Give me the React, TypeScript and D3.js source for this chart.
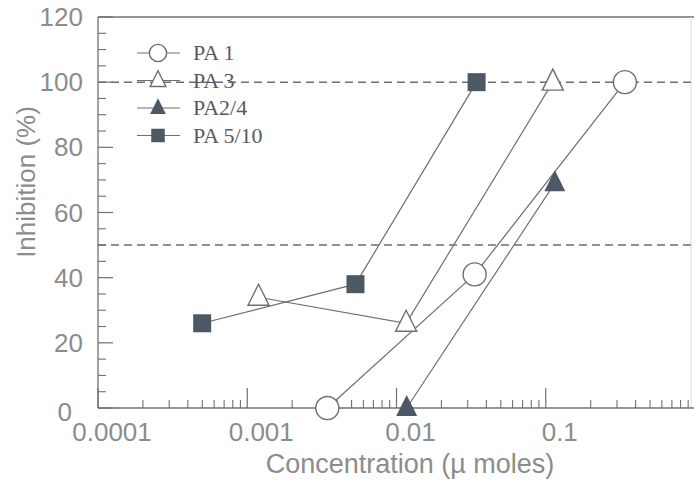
import * as d3 from "d3";
import React from "react";

// concentration (µ moles) / inhibition (%)
const seriesNames = ["PA 1", "PA 3", "PA2/4", "PA 5/10"];
const pa1Conc = [0.00344, 0.0334, 0.339];
const pa1Inh = [0, 41, 100];
const pa3Conc = [0.00119, 0.0116, 0.1115];
const pa3Inh = [34, 26, 100];
const pa24Conc = [0.0117, 0.115];
const pa24Inh = [0, 69];
const pa510Conc = [0.000499, 0.00531, 0.0344];
const pa510Inh = [26, 38, 100];
const refLines = [100, 50];

const xMajor = [0.0001, 0.001, 0.01, 0.1, 1];
const xTickLabels = ["0.0001", "0.001", "0.01", "0.1", "1"];
const yMajor = [0, 20, 40, 60, 80, 100, 120];

const W = 694;
const H = 487;
const AXIS = "#707070";
const LINE = "#6e6e6e";
const FILL = "#4d5866";
const TEXT = "#8c8c8c";
const SANS = "'Liberation Sans', Arial, sans-serif";

type Kind = "circle" | "triangle" | "triangleFilled" | "square";
const kinds: Kind[] = ["circle", "triangle", "triangleFilled", "square"];

function Marker({ kind, cx, cy, s = 1 }: { kind: Kind; cx: number; cy: number; s?: number }) {
  if (kind === "circle") {
    return <circle cx={cx} cy={cy} r={11.5 * s} fill="#fff" stroke={LINE} strokeWidth={1.4} />;
  }
  if (kind === "square") {
    const h = 9 * s;
    return <rect x={cx - h} y={cy - h} width={2 * h} height={2 * h} fill={FILL} />;
  }
  const hw = 10.5 * s;
  const d = `M${cx},${cy - 13 * s}L${cx + hw},${cy + 8 * s}L${cx - hw},${cy + 8 * s}Z`;
  return kind === "triangle" ? (
    <path d={d} fill="#fff" stroke={LINE} strokeWidth={1.4} strokeLinejoin="miter" />
  ) : (
    <path d={d} fill={FILL} />
  );
}

export default function App() {
  const x = d3.scaleLog().domain([0.0001, 1]).range([98, 695]);
  const y = d3.scaleLinear().domain([0, 120]).range([408, 17]);
  const [x0, x1] = [98, 694];
  const [yb, yt] = [y(0), y(120)];

  const xMinor: number[] = [];
  for (let e = -4; e < 0; e++) for (let m = 2; m <= 9; m++) xMinor.push(m * Math.pow(10, e));
  const yMinor = d3.range(0, 121, 5).filter((v) => v % 20 !== 0);

  const series = [
    { conc: pa1Conc, inh: pa1Inh },
    { conc: pa3Conc, inh: pa3Inh },
    { conc: pa24Conc, inh: pa24Inh },
    { conc: pa510Conc, inh: pa510Inh },
  ];
  const line = d3
    .line<[number, number]>()
    .x((d) => x(d[0]))
    .y((d) => y(d[1]));

  return (
    <div style={{ position: "absolute", left: 0, top: 0 }}>
      <svg width={W} height={H} viewBox={`0 0 ${W} ${H}`} style={{ display: "block", background: "#fff" }}>
        {/* frame */}
        <line x1={x0} x2={x1} y1={yt} y2={yt} stroke={AXIS} strokeWidth={1.3} />
        <line x1={691} x2={691} y1={yt} y2={yb} stroke="#dcdcdc" strokeWidth={1} />
        <line x1={x0} x2={x0} y1={yt} y2={yb} stroke={AXIS} strokeWidth={1.3} />
        <line x1={x0} x2={x1} y1={yb} y2={yb} stroke={AXIS} strokeWidth={1.3} />

        {/* y ticks */}
        {yMajor.map((v) => (
          <line key={"ym" + v} x1={x0} x2={x0 + 15} y1={y(v)} y2={y(v)} stroke={AXIS} strokeWidth={1.2} />
        ))}
        {yMinor.map((v) => (
          <line key={"yn" + v} x1={x0} x2={x0 + 8} y1={y(v)} y2={y(v)} stroke={AXIS} strokeWidth={1.1} />
        ))}
        {yMajor.map((v) => (
          <text
            key={"yl" + v}
            x={v === 0 ? 72 : 83}
            y={y(v) + (v === 0 ? 13 : 9)}
            textAnchor="end"
            fontFamily={SANS}
            fontSize={26}
            fill={TEXT}
          >
            {v}
          </text>
        ))}

        {/* x ticks */}
        {xMajor.map((v) => (
          <line key={"xm" + v} x1={x(v)} x2={x(v)} y1={yb} y2={yb - 20} stroke={AXIS} strokeWidth={1.2} />
        ))}
        {xMinor.map((v) => (
          <line key={"xn" + v} x1={x(v)} x2={x(v)} y1={yb} y2={yb - 8} stroke={AXIS} strokeWidth={1.1} />
        ))}
        {xMajor.map((v, i) => (
          <text
            key={"xl" + v}
            x={x(v) + 14}
            y={441}
            textAnchor="middle"
            fontFamily={SANS}
            fontSize={26}
            fill={TEXT}
          >
            {xTickLabels[i]}
          </text>
        ))}

        {/* axis titles */}
        <text x={410} y={473} textAnchor="middle" fontFamily={SANS} fontSize={27} fill={TEXT}>
          Concentration (µ moles)
        </text>
        <text
          transform="translate(35,182) rotate(-90)"
          textAnchor="middle"
          fontFamily={SANS}
          fontSize={26}
          fill={TEXT}
        >
          Inhibition (%)
        </text>

        {/* reference lines */}
        {refLines.map((v) => (
          <line
            key={"ref" + v}
            x1={x0}
            x2={x1}
            y1={y(v)}
            y2={y(v)}
            stroke={LINE}
            strokeWidth={1.5}
            strokeDasharray="8 5"
          />
        ))}

        {/* series lines */}
        {series.map((s, i) => (
          <path
            key={"ln" + i}
            d={line(s.conc.map((c, j) => [c, s.inh[j]] as [number, number])) || ""}
            fill="none"
            stroke={LINE}
            strokeWidth={1.2}
          />
        ))}
        {series.map((s, i) =>
          s.conc.map((c, j) => <Marker key={`mk${i}-${j}`} kind={kinds[i]} cx={x(c)} cy={y(s.inh[j])} />)
        )}

        {/* legend */}
        {seriesNames.map((name, i) => {
          const ly = 53 + i * 27.5;
          return (
            <g key={"lg" + i}>
              <line x1={137} x2={180} y1={ly} y2={ly} stroke={LINE} strokeWidth={1.2} />
              <Marker kind={kinds[i]} cx={158} cy={ly} s={0.75} />
              <text
                x={193}
                y={ly + 7}
                fontFamily="'Liberation Serif', 'Times New Roman', serif"
                fontSize={22}
                fill="#5a5a5a"
              >
                {name}
              </text>
            </g>
          );
        })}
      </svg>
    </div>
  );
}
